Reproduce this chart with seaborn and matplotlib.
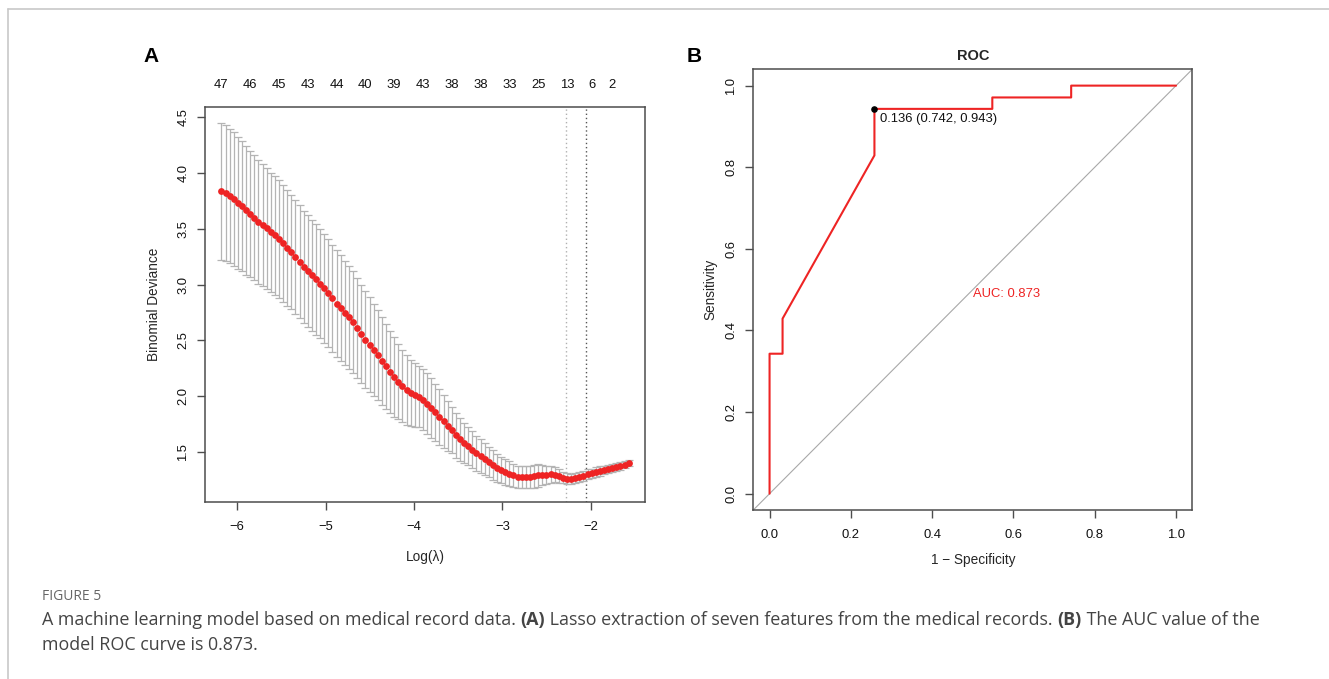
import matplotlib
matplotlib.use("Agg")
import matplotlib.pyplot as plt
import matplotlib.transforms as mtransforms
from matplotlib.lines import Line2D
import seaborn as sns
import pandas as pd

# ---------------- data ----------------
# Panel A: cross-validated lasso (glmnet) curve
log_lambda = [
    -6.180, -6.133, -6.087, -6.040, -5.994, -5.947, -5.901, -5.854, -5.807, -5.761,
    -5.714, -5.668, -5.621, -5.575, -5.528, -5.481, -5.435, -5.388, -5.342, -5.295,
    -5.249, -5.202, -5.155, -5.109, -5.062, -5.016, -4.969, -4.923, -4.876, -4.829,
    -4.783, -4.736, -4.690, -4.643, -4.597, -4.550, -4.503, -4.457, -4.410, -4.364,
    -4.317, -4.271, -4.224, -4.177, -4.131, -4.084, -4.038, -3.991, -3.945, -3.898,
    -3.852, -3.805, -3.758, -3.712, -3.665, -3.619, -3.572, -3.526, -3.479, -3.432,
    -3.386, -3.339, -3.293, -3.246, -3.200, -3.153, -3.106, -3.060, -3.013, -2.967,
    -2.920, -2.874, -2.827, -2.780, -2.734, -2.687, -2.641, -2.594, -2.548, -2.501,
    -2.454, -2.408, -2.361, -2.315, -2.268, -2.222, -2.175, -2.128, -2.082, -2.035,
    -1.989, -1.942, -1.896, -1.849, -1.803, -1.756, -1.709, -1.663, -1.616, -1.570,
]
deviance = [
    3.838, 3.818, 3.796, 3.767, 3.733, 3.704, 3.665, 3.632, 3.599, 3.563,
    3.533, 3.504, 3.470, 3.441, 3.408, 3.369, 3.330, 3.291, 3.246, 3.204,
    3.159, 3.120, 3.082, 3.046, 3.008, 2.967, 2.923, 2.878, 2.830, 2.788,
    2.743, 2.707, 2.665, 2.611, 2.557, 2.507, 2.462, 2.414, 2.369, 2.315,
    2.267, 2.220, 2.171, 2.130, 2.091, 2.055, 2.025, 2.010, 1.996, 1.969,
    1.933, 1.893, 1.853, 1.812, 1.774, 1.732, 1.693, 1.648, 1.612, 1.583,
    1.552, 1.520, 1.489, 1.462, 1.435, 1.408, 1.381, 1.358, 1.337, 1.319,
    1.304, 1.289, 1.277, 1.271, 1.271, 1.274, 1.280, 1.289, 1.295, 1.295,
    1.298, 1.295, 1.283, 1.268, 1.260, 1.256, 1.265, 1.274, 1.286, 1.298,
    1.307, 1.319, 1.328, 1.337, 1.346, 1.355, 1.364, 1.373, 1.385, 1.397,
]
dev_se = [
    0.615, 0.610, 0.603, 0.597, 0.590, 0.582, 0.575, 0.568, 0.561, 0.554,
    0.548, 0.541, 0.534, 0.530, 0.526, 0.522, 0.518, 0.514, 0.510, 0.507,
    0.504, 0.500, 0.497, 0.494, 0.491, 0.488, 0.485, 0.481, 0.478, 0.474,
    0.467, 0.462, 0.456, 0.449, 0.442, 0.434, 0.425, 0.415, 0.404, 0.392,
    0.380, 0.368, 0.355, 0.340, 0.325, 0.310, 0.296, 0.284, 0.275, 0.272,
    0.270, 0.266, 0.258, 0.248, 0.236, 0.222, 0.208, 0.199, 0.190, 0.180,
    0.170, 0.163, 0.157, 0.150, 0.144, 0.138, 0.132, 0.126, 0.120, 0.115,
    0.110, 0.105, 0.100, 0.099, 0.099, 0.100, 0.102, 0.100, 0.090, 0.082,
    0.075, 0.068, 0.060, 0.052, 0.046, 0.044, 0.044, 0.044, 0.044, 0.044,
    0.043, 0.042, 0.041, 0.040, 0.038, 0.036, 0.034, 0.032, 0.030, 0.028,
]
nz_index = [0, 7, 14, 21, 28, 35, 42, 49, 56, 63, 70, 77, 84, 90, 95]
nz_count = [47, 46, 45, 43, 44, 40, 39, 43, 38, 38, 33, 25, 13, 6, 2]
log_lambda_min = -2.28
log_lambda_1se = -2.05
a_xticks = [-6, -5, -4, -3, -2]
a_yticks = [1.5, 2.0, 2.5, 3.0, 3.5, 4.0, 4.5]

# Panel B: ROC curve
one_minus_spec = [0.0, 0.0, 0.032, 0.032, 0.258, 0.258, 0.548, 0.548, 0.742, 0.742, 1.0]
sensitivity = [0.0, 0.343, 0.343, 0.429, 0.829, 0.943, 0.943, 0.971, 0.971, 1.0, 1.0]
best_point = (0.258, 0.943)
best_label = "0.136 (0.742, 0.943)"
auc_label = "AUC: 0.873"
b_ticks = [0.0, 0.2, 0.4, 0.6, 0.8, 1.0]

caption_head = "FIGURE 5"
caption_runs = [
    ("A machine learning model based on medical record data. ", "normal"),
    ("(A)", "bold"),
    (" Lasso extraction of seven features from the medical records. ", "normal"),
    ("(B)", "bold"),
    (" The AUC value of the", "normal"),
]
caption_line2 = "model ROC curve is 0.873."

# ---------------- style ----------------
sns.set_style("white")
plt.rcParams["font.family"] = ["Liberation Sans", "DejaVu Sans"]
plt.rcParams["axes.unicode_minus"] = True

W, H = 1329, 679
fig = plt.figure(figsize=(W / 100, H / 100), dpi=100)
fig.patch.set_facecolor("white")

AX_COL = "#4d4d4d"
TICK_FS = 9.4
RED = "#ee2424"


def style_axes(ax):
    for sp in ax.spines.values():
        sp.set_visible(True)
        sp.set_color(AX_COL)
        sp.set_linewidth(1.1)
    ax.tick_params(axis="both", direction="out", length=6, width=1.0,
                   color=AX_COL, labelsize=TICK_FS, labelcolor="#111111",
                   bottom=True, left=True, top=False, right=False)
    ax.tick_params(axis="x", pad=7.5)
    ax.tick_params(axis="y", pad=5.5)
    for lab in ax.get_yticklabels():
        lab.set_rotation(90)
        lab.set_va("center")
    ax.grid(False)
    ax.set_facecolor("white")


# ---------------- Panel A ----------------
axA = fig.add_axes([205.3 / W, 1 - 502 / H, (644.7 - 205.3) / W, (502 - 107.3) / H])
dfA = pd.DataFrame({"loglam": log_lambda, "dev": deviance, "se": dev_se})
axA.errorbar(dfA["loglam"], dfA["dev"], yerr=dfA["se"], fmt="none",
             ecolor="#b4b4b4", elinewidth=0.9, capsize=3.0, capthick=0.9, zorder=2)
sns.scatterplot(data=dfA, x="loglam", y="dev", ax=axA, color=RED, s=24,
                linewidth=0, zorder=3, legend=False)
axA.axvline(log_lambda_min, color="#b0b0b0", ls=(0, (1, 2)), lw=1.0, zorder=1)
axA.axvline(log_lambda_1se, color="#555555", ls=(0, (1, 2)), lw=1.0, zorder=1)
axA.set_xlim(-6.362, -1.389)
axA.set_ylim(1.05, 4.59)
axA.set_xticks(a_xticks)
axA.set_xticklabels([f"\u2212{abs(v)}" for v in a_xticks])
axA.set_yticks(a_yticks)
axA.set_yticklabels([f"{v:.1f}" for v in a_yticks])
style_axes(axA)
axA.set_xlabel("Log(\u03bb)", fontsize=9.8, labelpad=12.5)
axA.set_ylabel("Binomial Deviance", fontsize=9.8, labelpad=12)
trA = mtransforms.blended_transform_factory(axA.transData, axA.transAxes)
for idx, n in zip(nz_index, nz_count):
    axA.text(log_lambda[idx], 1.0565, str(n), transform=trA, ha="center",
             va="center", fontsize=TICK_FS, color="#111111", clip_on=False)

# ---------------- Panel B ----------------
axB = fig.add_axes([753.3 / W, 1 - 510 / H, (1192.3 - 753.3) / W, (510 - 69.3) / H])
dfB = pd.DataFrame({"fpr": one_minus_spec, "tpr": sensitivity})
axB.axline((0, 0), (1, 1), color="#a8a8a8", lw=0.8, zorder=1)
sns.lineplot(data=dfB, x="fpr", y="tpr", ax=axB, sort=False, estimator=None,
             color=RED, lw=1.5, zorder=3)
axB.scatter([best_point[0]], [best_point[1]], s=14, color="black", zorder=4)
axB.text(best_point[0] + 0.014, best_point[1] - 0.025, best_label,
         fontsize=TICK_FS, ha="left", va="center", color="#111111")
axB.text(0.5, 0.489, auc_label, fontsize=TICK_FS, ha="left", va="center", color=RED)
axB.set_xlim(-0.04, 1.04)
axB.set_ylim(-0.04, 1.04)
axB.set_xticks(b_ticks)
axB.set_xticklabels([f"{v:.1f}" for v in b_ticks])
axB.set_yticks(b_ticks)
axB.set_yticklabels([f"{v:.1f}" for v in b_ticks])
style_axes(axB)
axB.set_xlabel("1 \u2212 Specificity", fontsize=9.8, labelpad=9)
axB.set_ylabel("Sensitivity", fontsize=9.8, labelpad=6)
axB.set_title("ROC", fontsize=10.5, fontweight="bold", pad=7)

# ---------------- panel letters ----------------
fig.text(151 / W, 1 - 57 / H, "A", fontsize=15, fontweight="bold", ha="center",
         va="center", color="black")
fig.text(694 / W, 1 - 57 / H, "B", fontsize=15, fontweight="bold", ha="center",
         va="center", color="black")

# ---------------- page frame ----------------
fig.add_artist(Line2D([8 / W, 1.0], [1 - 9 / H, 1 - 9 / H], transform=fig.transFigure,
                      color="#c8c8c8", lw=1.2))
fig.add_artist(Line2D([8 / W, 8 / W], [1 - 9 / H, 0.0], transform=fig.transFigure,
                      color="#c8c8c8", lw=1.2))

# ---------------- caption ----------------
CAP_FAMILY = ["Open Sans", "DejaVu Sans"]
renderer = fig.canvas.get_renderer()
pw = 0.0
for s, w in caption_runs:
    probe = fig.text(0, 0, s, fontsize=12, fontweight=w, family=CAP_FAMILY)
    pw += probe.get_window_extent(renderer=renderer).width
    probe.remove()
cap_fs = 12 * (1262 - 42) / pw * 0.993

fig.text(42 / W, 1 - 596 / H, caption_head, fontsize=cap_fs * 0.78,
         family=CAP_FAMILY, color="#666666", ha="left", va="center")
x = 42.0
for s, w in caption_runs:
    t = fig.text(x / W, 1 - 620 / H, s, fontsize=cap_fs, fontweight=w,
                 family=CAP_FAMILY, color="#444444", ha="left", va="center")
    x += t.get_window_extent(renderer=renderer).width
fig.text(42 / W, 1 - 645 / H, caption_line2, fontsize=cap_fs, family=CAP_FAMILY,
         color="#444444", ha="left", va="center")

fig.savefig("out.png", dpi=100, facecolor="white")
